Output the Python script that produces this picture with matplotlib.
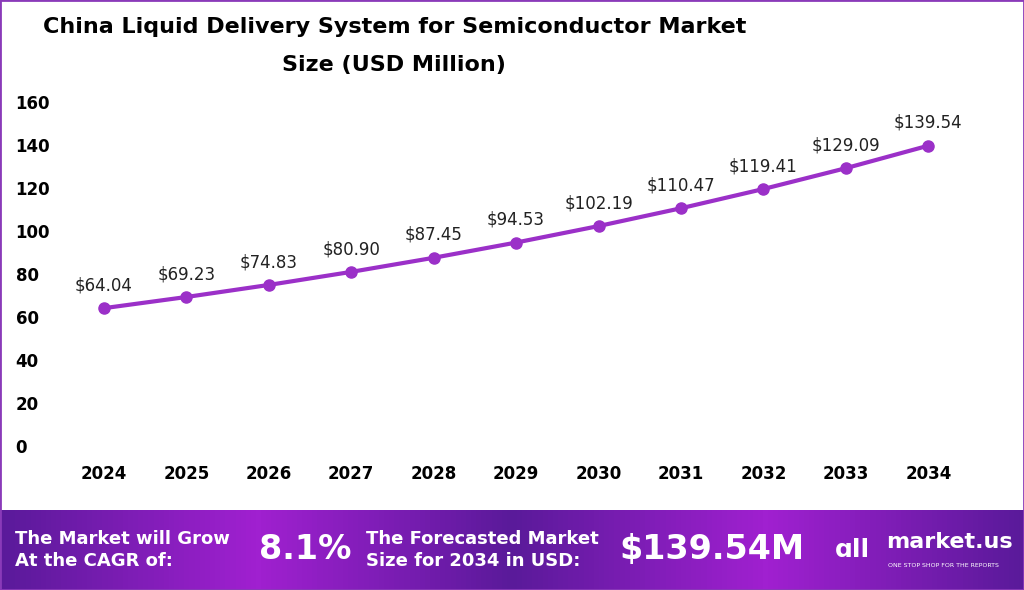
import matplotlib.pyplot as plt
from matplotlib.patches import Rectangle
from matplotlib.colors import LinearSegmentedColormap
import numpy as np

years = [2024, 2025, 2026, 2027, 2028, 2029, 2030, 2031, 2032, 2033, 2034]
values = [64.04, 69.23, 74.83, 80.90, 87.45, 94.53, 102.19, 110.47, 119.41, 129.09, 139.54]
yticks = [0, 20, 40, 60, 80, 100, 120, 140, 160]

fig = plt.figure(figsize=(10.24, 5.90), dpi=100)

# purple banner at the bottom with a horizontal gradient
bax = fig.add_axes([0, 0, 1, 0.136])
stops = [0.0, 0.5, 1.0, 0.5, 0.0, 0.5, 1.0, 0.5, 0.0]
cmap = LinearSegmentedColormap.from_list('p', ['#5a1a9a', '#a020d0'])
bax.imshow(np.interp(np.linspace(0, 8, 200), np.arange(9), stops)[None, :],
           aspect='auto', cmap=cmap, extent=[0, 1, 0, 1])
bax.set_axis_off()
bold = dict(color='white', fontweight='bold')
bax.text(0.015, 0.5, 'The Market will Grow\nAt the CAGR of:', va='center', fontsize=13, linespacing=1.3, **bold)
bax.text(0.253, 0.5, '8.1%', va='center', fontsize=24, **bold)
bax.text(0.357, 0.5, 'The Forecasted Market\nSize for 2034 in USD:', va='center', fontsize=13, linespacing=1.3, **bold)
bax.text(0.605, 0.5, '$139.54M', va='center', fontsize=24, **bold)
bax.text(0.865, 0.6, 'market.us', va='center', fontsize=16, **bold)
bax.text(0.867, 0.3, 'ONE STOP SHOP FOR THE REPORTS', va='center', fontsize=4.5, color='white')
bax.text(0.815, 0.5, 'ɑll', va='center', fontsize=18, **bold)

# thin frame around the whole picture
fig.patches.append(Rectangle((0, 0), 1, 1, transform=fig.transFigure, fill=False,
                             edgecolor='#8a3ab9', linewidth=2))

ax = fig.add_axes([0.045, 0.244, 0.918, 0.602])
ax.plot(years, values, color='#9b30c8', linewidth=3, marker='o', markersize=8, zorder=3)
for x, v in zip(years, values):
    ax.annotate(f'${v:.2f}', (x, v), xytext=(0, 10), textcoords='offset points',
                ha='center', va='bottom', fontsize=12, color='#222222')
ax.set_xlim(2023.3, 2034.7)
ax.set_ylim(0, 165)
ax.set_yticks(yticks)
ax.set_xticks(years)
for s in ax.spines.values():
    s.set_visible(False)
ax.tick_params(length=0, labelsize=12)
ax.tick_params(axis='x', pad=14)
ax.tick_params(axis='y', pad=22)
for lab in ax.get_xticklabels() + ax.get_yticklabels():
    lab.set_fontweight('bold')
for lab in ax.get_yticklabels():
    lab.set_horizontalalignment('left')
ax.patch.set_alpha(0)

fig.text(0.385, 0.955, 'China Liquid Delivery System for Semiconductor Market', ha='center',
         va='center', fontsize=16, fontweight='bold')
fig.text(0.385, 0.89, 'Size (USD Million)', ha='center', va='center', fontsize=16, fontweight='bold')

fig.savefig('out.png')
